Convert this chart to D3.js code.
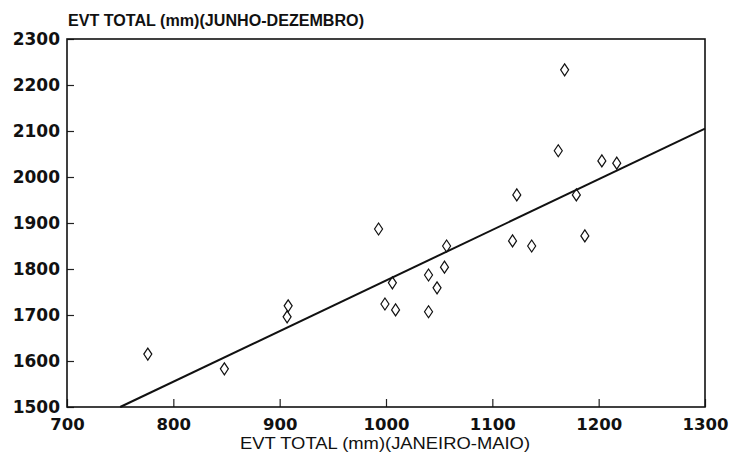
<!DOCTYPE html>
<html>
<head>
<meta charset="utf-8">
<script src="https://cdn.jsdelivr.net/npm/d3@7"></script>
<style>
  body { margin: 0; background: #fff; }
  text { fill: #111; }
</style>
</head>
<body>
<div id="container-chart"></div>
<script>
// EVT Janeiro-Maio (x) vs EVT Junho-Dezembro (y), mm
const evtJanMai = [776, 848, 908, 907, 993, 1057, 1055, 1040, 1048, 1006, 999, 1009, 1040,
                   1168, 1162, 1203, 1217, 1123, 1179, 1119, 1137, 1187];
const evtJunDez = [1615, 1583, 1720, 1696, 1887, 1850, 1804, 1787, 1759, 1770, 1724, 1711, 1707,
                   2233, 2057, 2035, 2030, 1961, 1961, 1861, 1850, 1872];
const xTicks = [700, 800, 900, 1000, 1100, 1200, 1300];
const yTicks = [1500, 1600, 1700, 1800, 1900, 2000, 2100, 2200, 2300];
// regression line end points
const lineX = [750, 1300];
const lineY = [1500, 2105];

const margin = {top: 39, right: 27, bottom: 59, left: 67},
      width = 732 - margin.left - margin.right,
      height = 466 - margin.top - margin.bottom;

const svg = d3.select("#container-chart")
  .append("svg")
  .attr("width", 732)
  .attr("height", 466)
  .append("g")
  .attr("transform", "translate(" + margin.left + "," + margin.top + ")");

const x = d3.scaleLinear().domain([700, 1300]).range([0, width]);
const y = d3.scaleLinear().domain([1500, 2300]).range([height, 0]);

const tickFont = "'DejaVu Sans', sans-serif";

// x axis, ticks pointing inward
const xAxis = svg.append("g")
  .attr("transform", "translate(0," + height + ")")
  .call(d3.axisBottom(x).tickValues(xTicks).tickSize(-8).tickPadding(11).tickFormat(d3.format("d")));
xAxis.select(".domain").remove();
xAxis.selectAll("line").attr("stroke", "#222").attr("stroke-width", 1.2);
xAxis.selectAll("text").attr("font-family", tickFont).attr("font-weight", "bold")
  .attr("font-size", 16.5).attr("fill", "#111");

// y axis
const yAxis = svg.append("g")
  .call(d3.axisLeft(y).tickValues(yTicks).tickSize(-7).tickPadding(7).tickFormat(d3.format("d")));
yAxis.select(".domain").remove();
yAxis.selectAll("line").attr("stroke", "#222").attr("stroke-width", 1.2);
yAxis.selectAll("text").attr("font-family", tickFont).attr("font-weight", "bold")
  .attr("font-size", 17).attr("fill", "#111");

// frame
svg.append("rect")
  .attr("x", 0).attr("y", 0)
  .attr("width", width).attr("height", height)
  .attr("fill", "none")
  .attr("stroke", "#111")
  .attr("stroke-width", 1.6);

// regression line
svg.append("path")
  .datum(d3.zip(lineX, lineY))
  .attr("fill", "none")
  .attr("stroke", "#111")
  .attr("stroke-width", 2)
  .attr("d", d3.line().x(d => x(d[0])).y(d => y(d[1])));

// diamonds
const diamond = "M0,-6L4,0L0,6L-4,0Z";
svg.selectAll(".pt")
  .data(d3.zip(evtJanMai, evtJunDez))
  .enter().append("path")
  .attr("class", "pt")
  .attr("transform", d => "translate(" + x(d[0]) + "," + y(d[1]) + ")")
  .attr("d", diamond)
  .attr("fill", "none")
  .attr("stroke", "#111")
  .attr("stroke-width", 1.2);

// titles
svg.append("text")
  .attr("x", 1).attr("y", -13)
  .attr("font-family", "'Liberation Sans', Arial, sans-serif")
  .attr("font-weight", "bold")
  .attr("font-size", 16)
  .attr("textLength", 296)
  .attr("lengthAdjust", "spacingAndGlyphs")
  .text("EVT TOTAL (mm)(JUNHO-DEZEMBRO)");

svg.append("text")
  .attr("x", 318).attr("y", height + 42)
  .attr("text-anchor", "middle")
  .attr("font-family", "'Liberation Sans', Arial, sans-serif")
  .attr("font-size", 17)
  .attr("textLength", 290)
  .attr("lengthAdjust", "spacingAndGlyphs")
  .text("EVT TOTAL (mm)(JANEIRO-MAIO)");
</script>
</body>
</html>
